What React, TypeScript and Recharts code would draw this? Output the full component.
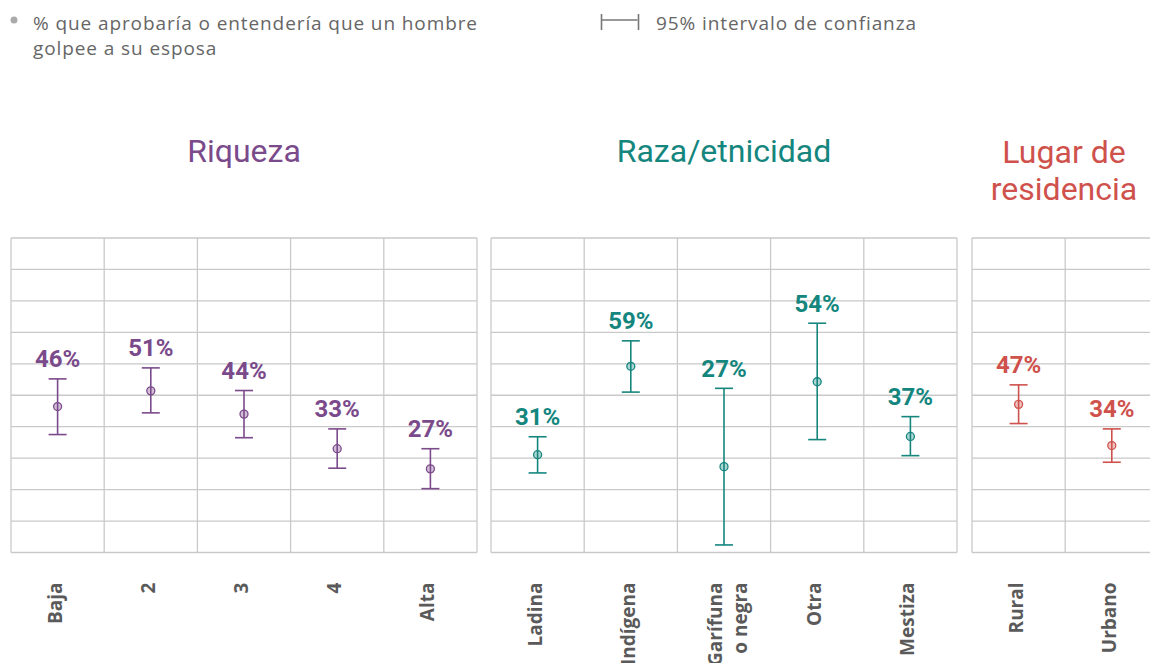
import { ComposedChart, Scatter, ErrorBar, XAxis, YAxis, CartesianGrid, LabelList } from "recharts";

// Riqueza
const wealthCats = ["Baja", "2", "3", "4", "Alta"];
const wealthVals = [46.4, 51.4, 44.0, 33.0, 26.6];
const wealthLow = [37.5, 44.4, 36.5, 26.8, 20.3];
const wealthHigh = [55.2, 58.7, 51.5, 39.3, 33.0];

// Raza/etnicidad
const raceCats = ["Ladina", "Indígena", "Garífuna\no negra", "Otra", "Mestiza"];
const raceVals = [31.1, 59.2, 27.3, 54.3, 36.9];
const raceLow = [25.3, 51.0, 2.4, 35.9, 30.8];
const raceHigh = [36.8, 67.3, 52.2, 72.9, 43.2];

// Lugar de residencia
const placeCats = ["Rural", "Urbano"];
const placeVals = [47.1, 34.0];
const placeLow = [41.0, 28.7];
const placeHigh = [53.3, 39.3];

const yTicks = [0, 10, 20, 30, 40, 50, 60, 70, 80, 90, 100];

const PURPLE = "#7b4a8b";
const TEAL = "#14867e";
const RED = "#cf514c";

const PLOT_TOP = 238;
const PLOT_H = 314.5;
const AXIS_H = 115;
const M = 5;

function CatTick({ x, y, payload }: any) {
  const lines = String(payload.value).split("\n");
  const start = 4 - (lines.length - 1) * 6.5;
  return (
    <g transform={`translate(${x},${y + 28})`}>
      <text transform="rotate(-90)" textAnchor="end" fontFamily="'Open Sans'" fontWeight={700} fontSize={19} fill="#5a5a5a">
        {lines.map((l, i) => (
          <tspan key={i} x={0} y={start + i * 25}>{l}</tspan>
        ))}
      </text>
    </g>
  );
}

function Panel({ cats, vals, low, high, color, left, width }: any) {
  const data = cats.map((c: string, i: number) => ({
    name: c,
    v: vals[i],
    hi: high[i],
    err: [vals[i] - low[i], high[i] - vals[i]],
    label: `${Math.round(vals[i])}%`,
  }));
  const half = width / cats.length / 2;
  return (
    <div style={{ position: "absolute", left: left - M, top: PLOT_TOP - M }}>
      <ComposedChart width={width + 2 * M} height={M + PLOT_H + AXIS_H} data={data} margin={{ top: M, right: M, bottom: 0, left: M }}>
        <CartesianGrid
          stroke="#c9c9c9"
          strokeWidth={1.3}
          verticalCoordinatesGenerator={({ offset }: any) =>
            cats.map((_: string, i: number) => offset.left + (offset.width * i) / cats.length).concat(offset.left + offset.width)
          }
        />
        <XAxis
          dataKey="name"
          height={AXIS_H}
          axisLine={false}
          tickLine={false}
          tickSize={0}
          interval={0}
          padding={{ left: half, right: half }}
          tick={<CatTick />}
        />
        <YAxis hide domain={[0, 100]} ticks={yTicks} />
        <Scatter dataKey="hi" isAnimationActive={false} shape={() => <g />}>
          <LabelList dataKey="label" position="top" offset={7} fill={color} fontSize={24} fontWeight={700} fontFamily="Roboto" />
        </Scatter>
        <Scatter
          dataKey="v"
          isAnimationActive={false}
          shape={(p: any) => <circle cx={p.cx} cy={p.cy} r={4} fill={color} fillOpacity={0.35} stroke={color} strokeWidth={1.3} />}
        >
          <ErrorBar dataKey="err" direction="y" width={9} stroke={color} strokeWidth={1.6} />
        </Scatter>
      </ComposedChart>
    </div>
  );
}

export default function App() {
  const legendFont = { fontFamily: "'Open Sans'", fontSize: 19, letterSpacing: 0.9, fill: "#666" };
  return (
    <div style={{ position: "fixed", left: 0, top: 0, width: 1150, height: 663, overflow: "hidden", background: "#fff" }}>
      <svg width={1150} height={663} style={{ position: "absolute", left: 0, top: 0 }}>
        <circle cx={14} cy={20} r={3.5} fill="#aaaaaa" />
        <text x={33} y={30} {...legendFont}>% que aprobaría o entendería que un hombre</text>
        <text x={33} y={55} {...legendFont}>golpee a su esposa</text>
        <g stroke="#777" strokeWidth={1.6}>
          <line x1={601.5} y1={14} x2={601.5} y2={30} />
          <line x1={601.5} y1={20} x2={637.5} y2={20} />
          <line x1={638.5} y1={14} x2={638.5} y2={30} />
        </g>
        <text x={656} y={30} {...legendFont}>95% intervalo de confianza</text>
        <text x={244} y={162} textAnchor="middle" fontFamily="Roboto" fontSize={32} fill={PURPLE}>Riqueza</text>
        <text x={724} y={162} textAnchor="middle" fontFamily="Roboto" fontSize={32} fill={TEAL}>Raza/etnicidad</text>
        <text x={1064} y={163} textAnchor="middle" fontFamily="Roboto" fontSize={32} fill={RED}>Lugar de</text>
        <text x={1064} y={200} textAnchor="middle" fontFamily="Roboto" fontSize={32} fill={RED}>residencia</text>
      </svg>
      <Panel cats={wealthCats} vals={wealthVals} low={wealthLow} high={wealthHigh} color={PURPLE} left={11} width={466} />
      <Panel cats={raceCats} vals={raceVals} low={raceLow} high={raceHigh} color={TEAL} left={491} width={466} />
      <Panel cats={placeCats} vals={placeVals} low={placeLow} high={placeHigh} color={RED} left={972} width={186.4} />
    </div>
  );
}
